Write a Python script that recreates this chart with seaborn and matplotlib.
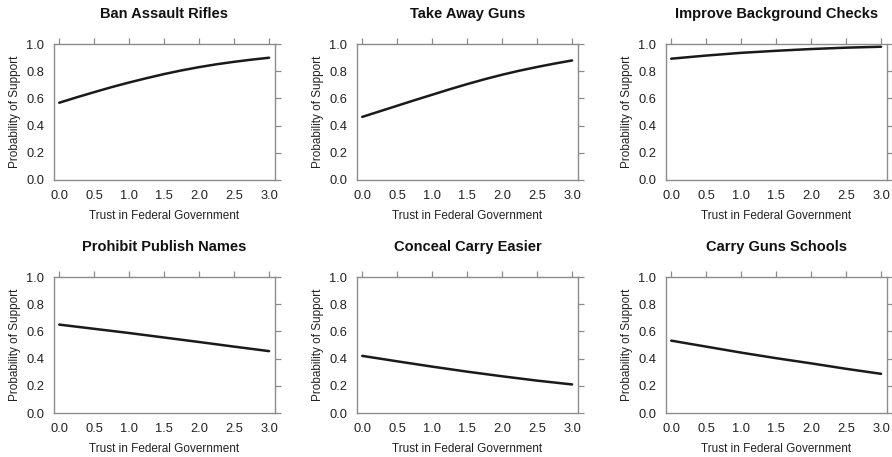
import matplotlib
matplotlib.use("Agg")
import matplotlib.pyplot as plt
import seaborn as sns
import pandas as pd

sns.set_style("white")
plt.rcParams['font.family'] = ['Liberation Sans', 'DejaVu Sans']

trust_fine = [0.0, 0.25, 0.5, 0.75, 1.0, 1.25, 1.5, 1.75, 2.0, 2.25, 2.5, 2.75, 3.0]
trust = [0.0, 0.5, 1.0, 1.5, 2.0, 2.5, 3.0]
titles = ["Ban Assault Rifles", "Take Away Guns", "Improve Background Checks",
          "Prohibit Publish Names", "Conceal Carry Easier", "Carry Guns Schools"]
ban_assault = [0.568, 0.608, 0.646, 0.683, 0.717, 0.749, 0.779, 0.806, 0.830, 0.851, 0.869, 0.885, 0.899]
take_away = [0.464, 0.505, 0.546, 0.587, 0.627, 0.667, 0.705, 0.741, 0.774, 0.804, 0.831, 0.856, 0.879]
background = [0.892, 0.915, 0.935, 0.950, 0.963, 0.973, 0.980]
publish_names = [0.650, 0.619, 0.588, 0.555, 0.522, 0.488, 0.455]
conceal_carry = [0.420, 0.380, 0.341, 0.304, 0.270, 0.238, 0.210]
guns_schools = [0.532, 0.488, 0.444, 0.403, 0.365, 0.325, 0.288]
series = [(trust_fine, ban_assault), (trust_fine, take_away), (trust, background),
          (trust, publish_names), (trust, conceal_carry), (trust, guns_schools)]

x_ticks = [0.0, 0.5, 1.0, 1.5, 2.0, 2.5, 3.0]
y_ticks = [0.0, 0.2, 0.4, 0.6, 0.8, 1.0]

fig = plt.figure(figsize=(8.92, 4.57), dpi=100)
lefts = [54, 357, 666]
tops = [44, 277]
W, H = 221, 136
frame_col = "#8c8c8c"

for i, (title, (xs, vals)) in enumerate(zip(titles, series)):
    r, c = divmod(i, 3)
    ax = fig.add_axes([lefts[c] / 892, 1 - (tops[r] + H) / 457, W / 892, H / 457])
    df = pd.DataFrame({"trust": xs, "p": vals})
    sns.lineplot(data=df, x="trust", y="p", ax=ax, color="#1a1a1a", linewidth=1.8)
    ax.set_xlim(-0.075, 3.085)
    ax.set_ylim(0, 1)
    ax.set_xticks(x_ticks)
    ax.set_yticks(y_ticks)
    ax.set_xticklabels([f"{v:.1f}" for v in x_ticks], fontsize=9.3, color="#222222")
    ax.set_yticklabels([f"{v:.1f}" for v in y_ticks], fontsize=9.3, color="#222222")
    ax.tick_params(axis="both", direction="out", length=4, width=0.9, color=frame_col,
                   top=True, right=True, labeltop=False, labelright=False, pad=3)
    for s in ax.spines.values():
        s.set_color(frame_col)
        s.set_linewidth(1.0)
    ax.set_xlabel("Trust in Federal Government", fontsize=8.5, color="#222222", labelpad=6)
    ax.set_ylabel("Probability of Support", fontsize=8.5, color="#222222", labelpad=4)
    ax.set_title(title, fontsize=10.5, fontweight="bold", pad=19, color="#111111")

fig.savefig("out.png", dpi=100)
